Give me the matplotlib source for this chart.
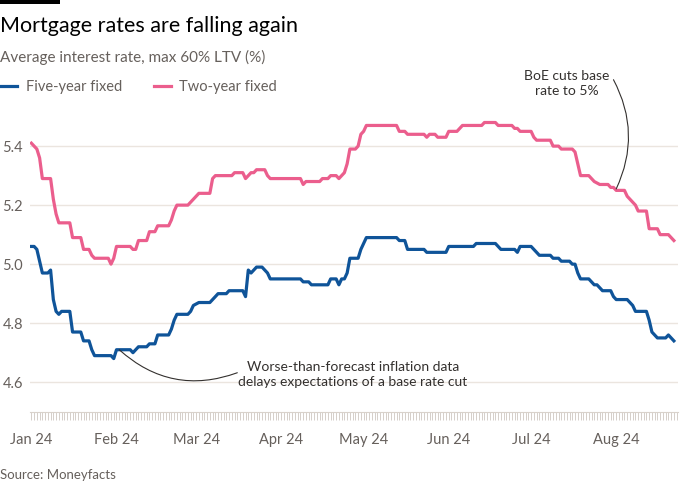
import numpy as np
import matplotlib
matplotlib.use("Agg")
import matplotlib.pyplot as plt
import matplotlib.dates as mdates
from matplotlib.patches import Rectangle

plt.rcParams["font.family"] = ["Lato", "DejaVu Sans"]

# Data: day offsets from 1 Jan 2024 and rates (%)
two_days = [0, 1, 2, 3, 4, 7, 8, 9, 10, 14, 15, 18, 19, 21, 22, 23, 28, 29, 30, 31,
            36, 37, 38, 39, 42, 43, 45, 46, 50, 51, 52, 53, 57, 58, 59, 60, 61, 65, 66, 67,
            73, 74, 77, 78, 79, 80, 81, 82, 85, 86, 87, 98, 99, 100, 105, 106, 108, 109, 111, 112,
            113, 114, 115, 116, 118, 119, 120, 121, 122, 133, 134, 136, 137, 143, 144, 145, 147, 148, 151, 152,
            155, 156, 157, 164, 165, 169, 170, 175, 176, 177, 178, 182, 183, 184, 189, 190, 192, 193, 197, 198,
            199, 200, 203, 204, 205, 207, 210, 211, 212, 213, 216, 217, 218, 219, 220, 221, 224, 225, 228, 229,
            232, 233, 234]
two_year = [5.41, 5.40, 5.39, 5.36, 5.29, 5.29, 5.22, 5.17, 5.14, 5.14, 5.09, 5.09, 5.05, 5.05, 5.03, 5.02, 5.02, 5.00, 5.02, 5.06,
            5.06, 5.05, 5.05, 5.08, 5.08, 5.11, 5.11, 5.13, 5.13, 5.15, 5.18, 5.20, 5.20, 5.21, 5.22, 5.23, 5.24, 5.24, 5.29, 5.30,
            5.30, 5.31, 5.31, 5.29, 5.30, 5.31, 5.31, 5.32, 5.32, 5.30, 5.29, 5.29, 5.27, 5.28, 5.28, 5.29, 5.29, 5.30, 5.30, 5.29,
            5.30, 5.31, 5.34, 5.39, 5.39, 5.40, 5.44, 5.45, 5.47, 5.47, 5.45, 5.45, 5.44, 5.44, 5.43, 5.44, 5.44, 5.43, 5.43, 5.45,
            5.45, 5.46, 5.47, 5.47, 5.48, 5.48, 5.47, 5.47, 5.46, 5.46, 5.45, 5.45, 5.43, 5.42, 5.42, 5.40, 5.40, 5.39, 5.39, 5.38,
            5.34, 5.30, 5.30, 5.29, 5.28, 5.27, 5.27, 5.26, 5.26, 5.25, 5.25, 5.23, 5.22, 5.21, 5.20, 5.18, 5.18, 5.12, 5.12, 5.10,
            5.10, 5.09, 5.08]

five_days = [0, 1, 2, 3, 4, 6, 7, 8, 9, 10, 11, 14, 15, 18, 19, 21, 22, 23, 29, 30,
             31, 36, 37, 38, 39, 42, 43, 45, 46, 50, 51, 52, 53, 57, 58, 59, 61, 65, 66, 67,
             68, 71, 72, 77, 78, 79, 80, 81, 82, 84, 85, 86, 87, 98, 99, 101, 102, 108, 109, 111,
             112, 113, 114, 115, 116, 119, 120, 121, 122, 133, 134, 136, 137, 143, 144, 151, 152, 161, 162, 169,
             170, 171, 176, 177, 178, 182, 183, 184, 185, 189, 190, 192, 193, 196, 197, 198, 199, 200, 203, 204,
             205, 206, 207, 208, 211, 212, 213, 217, 218, 219, 220, 224, 225, 226, 227, 228, 231, 232, 233, 234]
five_year = [5.06, 5.06, 5.05, 5.01, 4.97, 4.97, 4.98, 4.88, 4.84, 4.83, 4.84, 4.84, 4.77, 4.77, 4.74, 4.74, 4.71, 4.69, 4.69, 4.68,
             4.71, 4.71, 4.70, 4.71, 4.72, 4.72, 4.73, 4.73, 4.76, 4.76, 4.78, 4.81, 4.83, 4.83, 4.84, 4.86, 4.87, 4.87, 4.88, 4.89,
             4.90, 4.90, 4.91, 4.91, 4.89, 4.98, 4.97, 4.98, 4.99, 4.99, 4.98, 4.97, 4.95, 4.95, 4.94, 4.94, 4.93, 4.93, 4.95, 4.95,
             4.93, 4.95, 4.95, 4.97, 5.02, 5.02, 5.05, 5.07, 5.09, 5.09, 5.08, 5.08, 5.05, 5.05, 5.04, 5.04, 5.06, 5.06, 5.07, 5.07,
             5.06, 5.05, 5.05, 5.04, 5.06, 5.06, 5.05, 5.04, 5.03, 5.03, 5.02, 5.02, 5.01, 5.01, 5.00, 5.00, 4.97, 4.95, 4.95, 4.94,
             4.93, 4.93, 4.92, 4.91, 4.91, 4.89, 4.88, 4.88, 4.87, 4.86, 4.84, 4.84, 4.81, 4.77, 4.76, 4.75, 4.75, 4.76, 4.75, 4.74]

y_ticks = [4.6, 4.8, 5.0, 5.2, 5.4]

start = np.datetime64("2024-01-01")
two_dates = start + np.array(two_days).astype("timedelta64[D]")
five_dates = start + np.array(five_days).astype("timedelta64[D]")

BLUE = "#0f5499"
PINK = "#eb5e8d"
GREY = "#66605c"
GRID = "#ebe5df"

fig = plt.figure(figsize=(7, 5), dpi=100)
ax = fig.add_axes([30 / 700, 1 - 411.7 / 500, 648 / 700, (411.7 - 116.6) / 500])

ax.plot(five_dates, five_year, color=BLUE, lw=2.3, label="Five-year fixed", solid_joinstyle="round")
ax.plot(two_dates, two_year, color=PINK, lw=2.3, label="Two-year fixed", solid_joinstyle="round")

ax.set_ylim(4.5, 5.5)
ax.set_xlim(start - np.timedelta64(12, "h"), start + np.timedelta64(235, "D") + np.timedelta64(12, "h"))
ax.set_yticks(y_ticks)
ax.yaxis.set_major_formatter(plt.FuncFormatter(lambda v, p: f"{v:.1f}"))
ax.grid(axis="y", color=GRID, lw=1)
ax.set_axisbelow(True)

ax.xaxis.set_major_locator(mdates.MonthLocator())
ax.xaxis.set_major_formatter(mdates.DateFormatter("%b %y"))
ax.xaxis.set_minor_locator(mdates.DayLocator())

for s in ["top", "right", "left"]:
    ax.spines[s].set_visible(False)
ax.spines["bottom"].set_color("#d9d2cb")
ax.tick_params(axis="y", length=0, pad=5, labelsize=10.5, labelcolor=GREY)
ax.tick_params(axis="x", which="both", length=6, width=0.6, color="#cfc8c1",
               labelsize=10.5, labelcolor=GREY, pad=9)

# Annotations
ax.text(start + np.timedelta64(195, "D"), 5.613, "BoE cuts base\nrate to 5%", ha="center", va="center",
        fontsize=10, color="#33302e", linespacing=1.3)
ax.annotate("", xy=(start + np.timedelta64(213, "D"), 5.255),
            xytext=(start + np.timedelta64(212, "D"), 5.625), annotation_clip=False,
            arrowprops=dict(arrowstyle="-", color="#33302e", lw=0.8,
                            connectionstyle="arc3,rad=-0.25", shrinkA=0, shrinkB=0))

ax.text(start + np.timedelta64(117, "D"), 4.625,
        "Worse-than-forecast inflation data\ndelays expectations of a base rate cut",
        ha="center", va="center", fontsize=10, color="#33302e", linespacing=1.3)
ax.annotate("", xy=(start + np.timedelta64(32, "D"), 4.71),
            xytext=(start + np.timedelta64(75, "D"), 4.632),
            arrowprops=dict(arrowstyle="-", color="#33302e", lw=0.8,
                            connectionstyle="arc3,rad=-0.3", shrinkA=0, shrinkB=0))

# Legend
ax.legend(loc="upper left", bbox_to_anchor=(0, 1 - 80 / 500), bbox_transform=fig.transFigure,
          ncol=2, frameon=False, fontsize=10.5, labelcolor=GREY, handlelength=1.15,
          handletextpad=0.6, columnspacing=2.2, borderpad=0, borderaxespad=0)

# Titles and source
fig.add_artist(Rectangle((0, 1 - 4 / 500), 60 / 700, 4 / 500, transform=fig.transFigure,
                         color="black", lw=0))
fig.text(0, 1 - 32 / 500, "Mortgage rates are falling again", fontsize=15.5, color="black", va="baseline")
fig.text(0, 1 - 62 / 500, "Average interest rate, max 60% LTV (%)", fontsize=11, color=GREY, va="baseline")
fig.text(0, 1 - 479 / 500, "Source: Moneyfacts", fontsize=9.5, color=GREY, va="baseline")

fig.savefig("out.png", dpi=100, facecolor="white")
